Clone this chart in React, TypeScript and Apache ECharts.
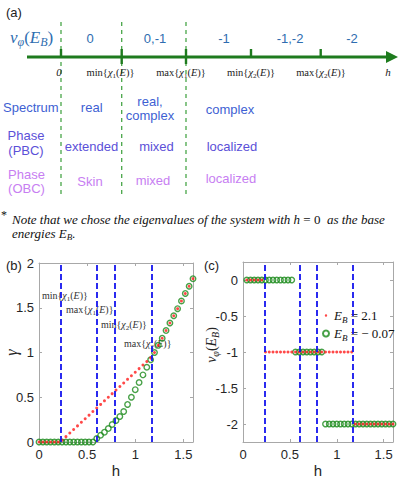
import React, { useEffect, useRef } from 'react';
import * as echarts from 'echarts';

// ---------- data ----------
const hB = [0, 0.04, 0.08, 0.12, 0.16, 0.2, 0.24, 0.28, 0.32, 0.36, 0.4, 0.44, 0.48, 0.52, 0.56, 0.6, 0.64, 0.68, 0.72, 0.76, 0.8, 0.84, 0.88, 0.92, 0.96, 1, 1.04, 1.08, 1.12, 1.16, 1.2, 1.24, 1.28, 1.32, 1.36, 1.4, 1.44, 1.48, 1.52, 1.56, 1.6];
const gammaRed = [0, 0, 0, 0, 0, 0, 0.02, 0.06, 0.1, 0.14, 0.18, 0.22, 0.26, 0.3, 0.34, 0.38, 0.42, 0.46, 0.5, 0.54, 0.58, 0.62, 0.66, 0.7, 0.74, 0.78, 0.82, 0.86, 0.9, 0.94, 1.0, 1.08, 1.16, 1.245, 1.33, 1.41, 1.49, 1.575, 1.66, 1.74, 1.825];
const gammaGreen = [0, 0, 0, 0, 0, 0, 0, 0, 0, 0, 0, 0, 0, 0, 0, 0.04, 0.075, 0.11, 0.15, 0.195, 0.24, 0.285, 0.34, 0.42, 0.5, 0.585, 0.665, 0.75, 0.835, 0.92, 1.0, 1.08, 1.16, 1.245, 1.33, 1.41, 1.49, 1.575, 1.66, 1.74, 1.825];

const hC = [0.04, 0.08, 0.12, 0.16, 0.2, 0.24, 0.28, 0.32, 0.36, 0.4, 0.44, 0.48, 0.52, 0.56, 0.6, 0.64, 0.68, 0.72, 0.76, 0.8, 0.84, 0.88, 0.92, 0.96, 1, 1.04, 1.08, 1.12, 1.16, 1.2, 1.24, 1.28, 1.32, 1.36, 1.4, 1.44, 1.48, 1.52, 1.56, 1.6];
const nuRed = [0, 0, 0, 0, 0, -1, -1, -1, -1, -1, -1, -1, -1, -1, -1, -1, -1, -1, -1, -1, -1, -1, -1, -1, -1, -1, -1, -1, -1, -2, -2, -2, -2, -2, -2, -2, -2, -2, -2, -2];
const nuGreen = [0, 0, 0, 0, 0, 0, 0, 0, 0, 0, 0, 0, 0, -1, -1, -1, -1, -1, -1, -1, -1, -2, -2, -2, -2, -2, -2, -2, -2, -2, -2, -2, -2, -2, -2, -2, -2, -2, -2, -2];

const criticalH = [0.23, 0.6, 0.79, 1.165];
const xTicks = [0, 0.5, 1, 1.5];
const yTicksB = [0, 0.5, 1, 1.5, 2];
const yTicksC = [0, -0.5, -1, -1.5, -2];

const windingLabels = ['0', '0,-1', '-1', '-1,-2', '-2'];
const spectrumRow = ['real', 'real,\ncomplex', 'complex'];
const pbcRow = ['extended', 'mixed', 'localized'];
const obcRow = ['Skin', 'mixed', 'localized'];

const NAME_R = 'E_B = 2.1';
const NAME_G = 'E_B = -0.07';

// ---------- styles ----------
const SANS = '"Liberation Sans", Arial, sans-serif';
const SERIF = '"Liberation Serif", "Times New Roman", serif';
const AX = '#a8a8a8';
const TXT = '#262626';
const ARROW = '#1e7b1e';
const DASHG = '#49a649';
const WIND = '#2e6db0';
const C_SPEC = '#3e5fd3';
const C_PBC = '#5b50d8';
const C_OBC = '#c77ef2';

function mathRich(size: number, color: string) {
  const sub = Math.round(size * 0.68);
  return {
    n: { fontFamily: SERIF, fontSize: size, lineHeight: size + 4, fill: color, color },
    i: { fontFamily: SERIF, fontStyle: 'italic', fontSize: size, lineHeight: size + 4, fill: color, color },
    s: { fontFamily: SERIF, fontSize: sub, lineHeight: sub, verticalAlign: 'bottom', fill: color, color },
    si: { fontFamily: SERIF, fontStyle: 'italic', fontSize: sub, lineHeight: sub, verticalAlign: 'bottom', fill: color, color },
  };
}

function gtext(x: number, y: number, text: string, o: any = {}) {
  return {
    type: 'text',
    x,
    y,
    rotation: o.rotation || 0,
    silent: true,
    style: {
      text,
      fontFamily: o.family || SANS,
      fontSize: o.size || 13,
      fontStyle: o.italic ? 'italic' : 'normal',
      fill: o.color || TXT,
      textAlign: o.align || 'center',
      textVerticalAlign: 'middle',
      lineHeight: o.lineHeight || (o.size || 13) + 4,
      rich: o.rich,
    },
  };
}

function mathText(x: number, y: number, text: string, size: number, color: string, align = 'center', rotation = 0) {
  return gtext(x, y, text, { family: SERIF, size, color, align, rotation, rich: mathRich(size, color) });
}

const chi = (fn: string, k: string) => `{n|${fn}{}{i|χ}{s|${k}}{n|(}{i|E}{n|)}}`;

function buildGraphic() {
  const els: any[] = [];
  // panel labels
  els.push(gtext(6, 12, '(a)', { align: 'left', size: 13, color: '#222' }));
  els.push(gtext(6, 265, '(b)', { align: 'left', size: 13, color: '#222' }));
  els.push(gtext(204, 265, '(c)', { align: 'left', size: 13, color: '#222' }));

  // dashed green separators
  [61, 121.7, 186].forEach((x) => {
    els.push({ type: 'line', silent: true, shape: { x1: x, y1: 22, x2: x, y2: 195 }, style: { stroke: DASHG, lineWidth: 1.3, lineDash: [4, 4] } });
  });
  // arrow axis
  els.push({ type: 'line', silent: true, shape: { x1: 27, y1: 57, x2: 389, y2: 57 }, style: { stroke: ARROW, lineWidth: 3 } });
  els.push({ type: 'polygon', silent: true, shape: { points: [[386, 51], [398, 57], [386, 63]] }, style: { fill: ARROW } });
  [[61, 57], [121.7, 64], [186, 64], [251, 57], [320.7, 57]].forEach(([x, y2]) => {
    els.push({ type: 'line', silent: true, shape: { x1: x, y1: 49, x2: x, y2 }, style: { stroke: ARROW, lineWidth: 2.4 } });
  });
  // nu_phi(E_B) label
  els.push(mathText(10, 37, '{i|ν}{si|φ}{n|(}{i|E}{si|B}{n|)}', 17, WIND, 'left'));
  // winding numbers
  [90, 155, 224, 290, 352].forEach((x, k) => els.push(gtext(x, 38, windingLabels[k], { size: 13, color: WIND })));
  // bottom labels of arrow
  els.push(mathText(59, 72, '{i|0}', 11, '#222'));
  els.push(mathText(110.5, 72, chi('min', '1'), 10.5, '#222'));
  els.push(mathText(181, 72, chi('max', '1'), 10.5, '#222'));
  els.push(mathText(251, 72, chi('min', '2'), 10.5, '#222'));
  els.push(mathText(321, 72, chi('max', '2'), 10.5, '#222'));
  els.push(mathText(388, 72, '{i|h}', 11, '#222'));

  // rows
  els.push(gtext(3, 107, 'Spectrum', { align: 'left', color: C_SPEC }));
  els.push(gtext(91.7, 107, spectrumRow[0], { color: C_SPEC }));
  els.push(gtext(150, 108.5, spectrumRow[1], { color: C_SPEC, lineHeight: 14.5 }));
  els.push(gtext(230, 109, spectrumRow[2], { color: C_SPEC }));

  els.push(gtext(26, 143, 'Phase\n(PBC)', { color: C_PBC, lineHeight: 14.5 }));
  els.push(gtext(91.5, 146.5, pbcRow[0], { color: C_PBC }));
  els.push(gtext(156.5, 146.5, pbcRow[1], { color: C_PBC }));
  els.push(gtext(232, 146.5, pbcRow[2], { color: C_PBC }));

  els.push(gtext(26.5, 181, 'Phase\n(OBC)', { color: C_OBC, lineHeight: 14 }));
  els.push(gtext(90, 181.5, obcRow[0], { color: C_OBC }));
  els.push(gtext(153, 180, obcRow[1], { color: C_OBC }));
  els.push(gtext(231, 178, obcRow[2], { color: C_OBC }));

  // footnote
  els.push(gtext(1, 215, '*', { align: 'left', family: SERIF, size: 12, color: '#111' }));
  const fr = {
    it: { fontFamily: SERIF, fontStyle: 'italic', fontSize: 13, lineHeight: 16, fill: '#111' },
    u: { fontFamily: SERIF, fontSize: 13, lineHeight: 16, fill: '#111' },
    sub: { fontFamily: SERIF, fontStyle: 'italic', fontSize: 9, lineHeight: 9, verticalAlign: 'bottom', fill: '#111' },
  };
  els.push(gtext(12, 219, '{it|Note that we chose the eigenvalues of the system with h }{u|= 0}{it|  as the base}', { align: 'left', family: SERIF, rich: fr }));
  els.push(gtext(12, 233, '{it|energies E}{sub|B}{it|.}', { align: 'left', family: SERIF, rich: fr }));

  // (b) annotations
  els.push(mathText(42, 295, chi('min', '1'), 10, '#333', 'left'));
  els.push(mathText(66, 309, chi('max', '1'), 10, '#333', 'left'));
  els.push(mathText(101, 324, chi('min', '2'), 10, '#333', 'left'));
  els.push(mathText(124, 343, chi('max', '2'), 10, '#333', 'left'));

  // (c) y-axis title
  els.push(mathText(211, 345, '{i|ν}{si|φ}{n|(}{i|E}{si|B}{n|)}', 14, TXT, 'center', Math.PI / 2));
  return els;
}

function xAxisPair(grid: number) {
  const base = {
    gridIndex: grid,
    type: 'value',
    min: 0,
    max: 1.6,
    splitLine: { show: false },
  };
  return [
    {
      ...base,
      position: 'bottom',
      axisLine: { show: true, onZero: false, lineStyle: { color: AX, width: 1 } },
      axisTick: { show: true, inside: true, length: 3, customValues: xTicks, lineStyle: { color: AX } },
      axisLabel: { customValues: xTicks, fontFamily: SANS, fontSize: 13, color: TXT, margin: 6 },
      name: 'h',
      nameLocation: 'middle',
      nameGap: 21,
      nameMoveOverlap: false,
      nameTextStyle: { fontFamily: SANS, fontSize: 15, color: TXT },
    },
    {
      ...base,
      position: 'top',
      axisLine: { show: true, onZero: false, lineStyle: { color: AX, width: 1 } },
      axisTick: { show: true, inside: true, length: 3, customValues: xTicks, lineStyle: { color: AX } },
      axisLabel: { show: false },
    },
  ];
}

function yAxisPair(grid: number, min: number, max: number, ticks: number[], name: string, nameGap: number, nameStyle: any) {
  const base = { gridIndex: grid, type: 'value', min, max, splitLine: { show: false } };
  return [
    {
      ...base,
      position: 'left',
      axisLine: { show: true, onZero: false, lineStyle: { color: AX, width: 1 } },
      axisTick: { show: true, inside: true, length: 3, customValues: ticks, lineStyle: { color: AX } },
      axisLabel: { customValues: ticks, fontFamily: SANS, fontSize: 13, color: TXT, margin: 5 },
      name,
      nameLocation: 'middle',
      nameGap,
      nameMoveOverlap: false,
      nameTextStyle: nameStyle,
    },
    {
      ...base,
      position: 'right',
      axisLine: { show: true, onZero: false, lineStyle: { color: AX, width: 1 } },
      axisTick: { show: true, inside: true, length: 3, customValues: ticks, lineStyle: { color: AX } },
      axisLabel: { show: false },
    },
  ];
}

const markLineDash = {
  silent: true,
  symbol: ['none', 'none'],
  label: { show: false },
  lineStyle: { color: '#1414ee', type: [6, 3], width: 1.8 },
  data: criticalH.map((v) => ({ xAxis: v })),
};

const redStyle = { color: '#ff1a1a' };
const greenStyle = { color: 'rgba(0,0,0,0)', borderColor: '#1a8a1a', borderWidth: 1.4 };

export default function App() {
  const ref = useRef<HTMLDivElement>(null);
  useEffect(() => {
    if (!ref.current) return;
    const chart = echarts.init(ref.current, null, { renderer: 'svg' });
    const option: any = {
      animation: false,
      backgroundColor: '#ffffff',
      grid: [
        { left: 39, top: 263, width: 154, height: 179 },
        { left: 243, top: 262, width: 150, height: 180 },
      ],
      xAxis: [...xAxisPair(0), ...xAxisPair(1)],
      yAxis: [
        ...yAxisPair(0, 0, 2, yTicksB, 'γ', 20, { fontFamily: SERIF, fontStyle: 'italic', fontSize: 16, color: TXT }),
        ...yAxisPair(1, -2.25, 0.25, yTicksC, '', 26, {}),
      ],
      legend: {
        data: [
          { name: NAME_R, icon: 'path://M0,0L0,0M8,8L8,8M5.6,4A1.6,1.6,0,1,1,2.4,4A1.6,1.6,0,1,1,5.6,4Z' },
          { name: NAME_G, icon: 'circle' },
        ],
        orient: 'vertical',
        left: 317,
        top: 304,
        itemWidth: 6,
        itemHeight: 6,
        itemGap: 3,
        selectedMode: false,
        formatter: (name: string) => (name === NAME_R ? '{i|E}{si|B}{n| = 2.1}' : '{i|E}{si|B}{n| = − 0.07}'),
        textStyle: { fontFamily: SERIF, fontSize: 13, color: '#111', rich: mathRich(13, '#111') },
      },
      series: [
        {
          name: 'gamma E_B = -0.07',
          type: 'scatter',
          xAxisIndex: 0,
          yAxisIndex: 0,
          symbol: 'circle',
          symbolSize: 5.5,
          itemStyle: greenStyle,
          z: 2,
          data: hB.map((h, i) => [h, gammaGreen[i]]),
          markLine: markLineDash,
        },
        {
          name: 'gamma E_B = 2.1',
          type: 'scatter',
          xAxisIndex: 0,
          yAxisIndex: 0,
          symbol: 'circle',
          symbolSize: 3,
          itemStyle: redStyle,
          z: 3,
          data: hB.map((h, i) => [h, gammaRed[i]]),
        },
        {
          name: NAME_G,
          type: 'scatter',
          xAxisIndex: 2,
          yAxisIndex: 2,
          symbol: 'circle',
          symbolSize: 5.5,
          itemStyle: greenStyle,
          z: 2,
          data: hC.map((h, i) => [h, nuGreen[i]]),
          markLine: markLineDash,
        },
        {
          name: NAME_R,
          type: 'scatter',
          xAxisIndex: 2,
          yAxisIndex: 2,
          symbol: 'circle',
          symbolSize: 3,
          itemStyle: redStyle,
          z: 3,
          data: hC.map((h, i) => [h, nuRed[i]]),
        },
      ],
      graphic: buildGraphic(),
    };
    chart.setOption(option);
    return () => chart.dispose();
  }, []);
  return <div ref={ref} style={{ position: 'fixed', left: 0, top: 0, width: 399, height: 483 }} />;
}
